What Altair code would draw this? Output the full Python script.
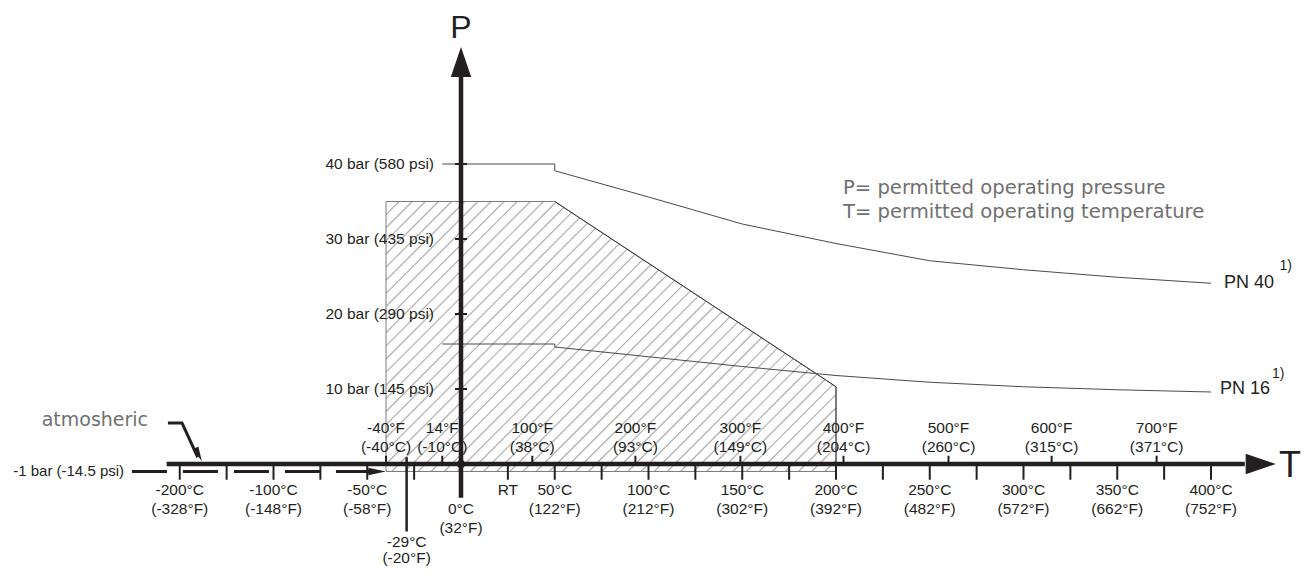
import altair as alt
import pandas as pd

# ---------------- data (°C, bar) ----------------
pn40_T = [-10, 50, 50, 100, 150, 200, 250, 300, 350, 400]
pn40_P = [40, 40, 39.1, 35.6, 32.0, 29.4, 27.1, 25.9, 24.9, 24.1]
pn16_T = [-10, 50, 50, 100, 150, 200, 250, 300, 350, 400]
pn16_P = [16, 16, 15.6, 14.3, 13.0, 11.8, 10.9, 10.3, 9.9, 9.6]

range_T = [-40, 200, 200, 50, -40]
range_P = [-1, -1, 10.3, 35, 35]

p_ticks = [10, 20, 30, 40]
p_labels = ["10 bar (145 psi)", "20 bar (290 psi)", "30 bar (435 psi)", "40 bar (580 psi)"]

f_ticks = [-40, -10, 38, 93, 149, 204, 260, 315, 371]
f_labels_1 = ["-40°F", "14°F", "100°F", "200°F", "300°F", "400°F", "500°F", "600°F", "700°F"]
f_labels_2 = ["(-40°C)", "(-10°C)", "(38°C)", "(93°C)", "(149°C)", "(204°C)", "(260°C)", "(315°C)", "(371°C)"]

c_ticks = [-150, -125, -100, -75, -50, -25, 25, 50, 75, 100, 125, 150, 175, 200,
           225, 250, 275, 300, 325, 350, 375, 400]
c_label_pos = [-150, -100, -50, 50, 100, 150, 200, 250, 300, 350, 400]
c_labels_1 = ["-200°C", "-100°C", "-50°C", "50°C", "100°C", "150°C", "200°C",
              "250°C", "300°C", "350°C", "400°C"]
c_labels_2 = ["(-328°F)", "(-148°F)", "(-58°F)", "(122°F)", "(212°F)", "(302°F)",
              "(392°F)", "(482°F)", "(572°F)", "(662°F)", "(752°F)"]

vacuum_P = -1
t_axis_start, t_axis_end, t_arrow = -157, 418, 426.5
p_axis_start, p_axis_end, p_arrow = -4.5, 52, 53.6

# ---------------- layout ----------------
W, H = 1294, 560
X_DOM = [-241.6, 448.533]
Y_DOM = [-13.8667, 60.8]
xs = alt.Scale(domain=X_DOM, nice=False, zero=False)
ys = alt.Scale(domain=Y_DOM, nice=False, zero=False)

BLACK = "#231f20"
GRAY_TXT = "#707070"
FONT = "Liberation Sans, Arial, Helvetica, sans-serif"
GFONT = "DejaVu Sans, sans-serif"
LS = 15.5


def X(f="x"):
    return alt.X(f"{f}:Q", scale=xs, axis=None)


def Y(f="y"):
    return alt.Y(f"{f}:Q", scale=ys, axis=None)


# hatch lines (45° in screen space) clipped to the permitted range polygon
slope = (W / (X_DOM[1] - X_DOM[0])) / (H / (Y_DOM[1] - Y_DOM[0]))
poly = list(zip(range_T, range_P))


def clip(c):
    lo, hi = -1e9, 1e9
    n = len(poly)
    for i in range(n):
        ax, ay = poly[i]
        bx, by = poly[(i + 1) % n]
        ex, ey = bx - ax, by - ay
        a = slope * ex - ey
        b = -slope * ex * c - ex * ay + ey * ax
        if abs(a) < 1e-12:
            if b < 0:
                return None
        elif a > 0:
            lo = max(lo, -b / a)
        else:
            hi = min(hi, -b / a)
    if lo >= hi:
        return None
    return lo, hi


cvals = [min(t - p / slope for t, p in poly), max(t - p / slope for t, p in poly)]
hatch = []
c = cvals[0]
while c <= cvals[1]:
    r = clip(c)
    if r:
        hatch.append({"x": r[0], "y": slope * (r[0] - c), "x2": r[1], "y2": slope * (r[1] - c)})
    c += 7.0
hatch_df = pd.DataFrame(hatch)

hatch_layer = alt.Chart(hatch_df).mark_rule(color="#b0b0b0", strokeWidth=1.2).encode(
    x=X(), y=Y(), x2="x2:Q", y2="y2:Q")

outline_df = pd.DataFrame({"x": range_T + [range_T[0]], "y": range_P + [range_P[0]],
                           "i": list(range(len(range_T) + 1))})
outline = alt.Chart(outline_df).mark_line(color="#7d7d7d", strokeWidth=1).encode(
    x=X(), y=Y(), order="i:Q")
diag_df = pd.DataFrame({"x": [range_T[3], range_T[2], range_T[1]],
                        "y": [range_P[3], range_P[2], range_P[1]], "i": [0, 1, 2]})
diag = alt.Chart(diag_df).mark_line(color="#3a3a3a", strokeWidth=1).encode(
    x=X(), y=Y(), order="i:Q")

curves_df = pd.DataFrame({
    "x": pn40_T + pn16_T,
    "y": pn40_P + pn16_P,
    "s": ["PN40"] * len(pn40_T) + ["PN16"] * len(pn16_T),
    "i": list(range(len(pn40_T))) + list(range(len(pn16_T))),
})
curves = alt.Chart(curves_df).mark_line(color="#4a4a4a", strokeWidth=1).encode(
    x=X(), y=Y(), detail="s:N", order="i:Q")

# axes
axes_df = pd.DataFrame({"x": [t_axis_start, 0], "y": [0, p_axis_start],
                        "x2": [t_axis_end, 0], "y2": [0, p_axis_end]})
axes = alt.Chart(axes_df).mark_rule(color=BLACK, strokeWidth=4.5).encode(
    x=X(), y=Y(), x2="x2:Q", y2="y2:Q")

arrow_t = alt.Chart(pd.DataFrame({"x": [t_arrow], "y": [0]})).mark_point(
    shape="M1,0L-1,-0.68L-1,0.68Z", size=900, filled=True, opacity=1, color=BLACK,
    strokeWidth=0).encode(x=X(), y=Y())
arrow_p = alt.Chart(pd.DataFrame({"x": [0], "y": [p_arrow]})).mark_point(
    shape="M0,-1L-0.68,1L0.68,1Z", size=900, filled=True, opacity=1, color=BLACK,
    strokeWidth=0).encode(x=X(), y=Y())
origin = alt.Chart(pd.DataFrame({"x": [0], "y": [0]})).mark_point(
    shape="circle", size=75, filled=True, opacity=1, color=BLACK).encode(x=X(), y=Y())

# vacuum (-1 bar) dashed line with arrow
vac_df = pd.DataFrame({"x": [-175.5], "x2": [-48], "y": [vacuum_P]})
vac = alt.Chart(vac_df).mark_rule(color=BLACK, strokeWidth=3, strokeDash=[35, 16]).encode(
    x=X(), x2="x2:Q", y=Y())
vac_arrow = alt.Chart(pd.DataFrame({"x": [-44.8], "y": [vacuum_P]})).mark_point(
    shape="M1,0L-1,-0.42L-1,0.42Z", size=300, filled=True, opacity=1, color=BLACK,
    strokeWidth=0).encode(x=X(), y=Y())

# atmospheric pointer
atm_df = pd.DataFrame({"x": [-156.3, -148.8, -140.4], "y": [5.47, 5.47, 0.9], "i": [0, 1, 2]})
atm_line = alt.Chart(atm_df).mark_line(color=BLACK, strokeWidth=3).encode(
    x=X(), y=Y(), order="i:Q")
atm_arrow = alt.Chart(pd.DataFrame({"x": [-139.9], "y": [1.25]})).mark_point(
    shape="M1,0L-1,-0.42L-1,0.42Z", size=220, filled=True, opacity=1, color=BLACK,
    strokeWidth=0, angle=65).encode(x=X(), y=Y())

# ticks
ft_df = pd.DataFrame({"x": f_ticks, "y": [0] * len(f_ticks), "y2": [1.1] * len(f_ticks)})
ft = alt.Chart(ft_df).mark_rule(color=BLACK, strokeWidth=2).encode(x=X(), y=Y(), y2="y2:Q")
ct_df = pd.DataFrame({"x": c_ticks, "y": [0] * len(c_ticks), "y2": [-2.1] * len(c_ticks)})
ct = alt.Chart(ct_df).mark_rule(color=BLACK, strokeWidth=2).encode(x=X(), y=Y(), y2="y2:Q")
t29 = alt.Chart(pd.DataFrame({"x": [-29], "y": [0.9], "y2": [-9.0]})).mark_rule(
    color=BLACK, strokeWidth=2.5).encode(x=X(), y=Y(), y2="y2:Q")
pt_df = pd.DataFrame({"x": [-3.2] * 4, "x2": [3.2] * 4, "y": p_ticks})
pt = alt.Chart(pt_df).mark_rule(color=BLACK, strokeWidth=2).encode(
    x=X(), x2="x2:Q", y=Y())


def texts(df, size, color=BLACK, align="center", font=FONT, baseline="middle"):
    return alt.Chart(df).mark_text(align=align, baseline=baseline, fontSize=size,
                                   font=font, color=color).encode(x=X(), y=Y(), text="t:N")


p_lab = texts(pd.DataFrame({"x": [-14.4] * 4, "y": p_ticks, "t": p_labels}), LS, align="right")
f_lab = texts(pd.DataFrame({"x": f_ticks + f_ticks,
                            "y": [4.8] * len(f_ticks) + [2.27] * len(f_ticks),
                            "t": f_labels_1 + f_labels_2}), LS)
c_lab = texts(pd.DataFrame({"x": c_label_pos + c_label_pos,
                            "y": [-3.47] * len(c_label_pos) + [-6.0] * len(c_label_pos),
                            "t": c_labels_1 + c_labels_2}), LS)
misc_lab = texts(pd.DataFrame({"x": [25, 0, 0, -29, -29],
                               "y": [-3.47, -6.0, -8.53, -10.4, -12.5],
                               "t": ["RT", "0°C", "(32°F)", "-29°C", "(-20°F)"]}), LS)
vac_lab = texts(pd.DataFrame({"x": [-179.7], "y": [vacuum_P], "t": ["-1 bar (-14.5 psi)"]}),
                15, align="right")
atm_lab = texts(pd.DataFrame({"x": [-166.9], "y": [5.8], "t": ["atmosheric"]}), 19,
                color=GRAY_TXT, align="right", font=GFONT)
legend_lab = texts(pd.DataFrame({"x": [203.7, 203.7], "y": [36.8, 33.6],
                                 "t": ["P= permitted operating pressure",
                                       "T= permitted operating temperature"]}), 19.6,
                   color=GRAY_TXT, align="left", font=GFONT)
p_name = texts(pd.DataFrame({"x": [0], "y": [56.85], "t": ["P"]}), 32, baseline="alphabetic")
t_name = texts(pd.DataFrame({"x": [442.1], "y": [-0.33], "t": ["T"]}), 36)
pn_lab = texts(pd.DataFrame({"x": [406.9, 404.8], "y": [24.13, 10.0], "t": ["PN 40", "PN 16"]}),
               18, align="left")
pn_sup = texts(pd.DataFrame({"x": [436.5, 432.5], "y": [26.4, 12.0], "t": ["1)", "1)"]}),
               14, align="left")

chart = alt.layer(
    hatch_layer, outline, diag, curves, axes, arrow_t, arrow_p, origin, vac, vac_arrow,
    atm_line, atm_arrow, ft, ct, t29, pt, p_lab, f_lab, c_lab, misc_lab, vac_lab, atm_lab,
    legend_lab, p_name, t_name, pn_lab, pn_sup,
).properties(
    width=W, height=H, padding=0, background="white",
    autosize=alt.AutoSizeParams(type="none"),
).configure_view(stroke=None)

chart.save("out.html", embed_options={"renderer": "svg", "actions": False})
